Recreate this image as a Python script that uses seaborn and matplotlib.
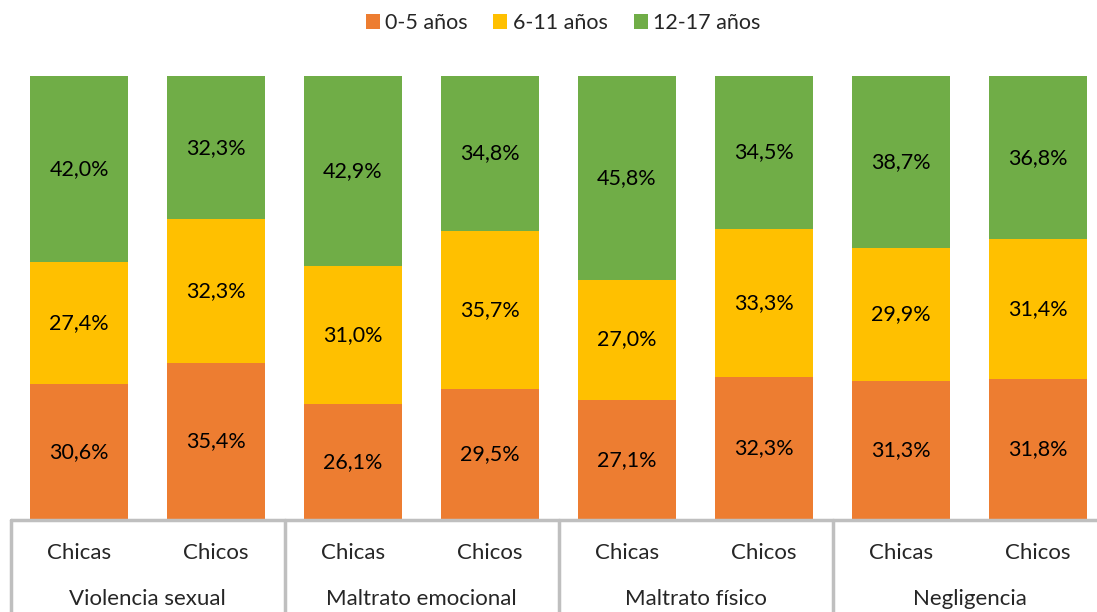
import numpy as np
import pandas as pd
import seaborn as sns
import matplotlib.pyplot as plt
from matplotlib.patches import Patch
import matplotlib.transforms as mtransforms

sexo = ["Chicas", "Chicos"] * 4
tipos = ["Violencia sexual", "Maltrato emocional", "Maltrato físico", "Negligencia"]
edades = ["0-5 años", "6-11 años", "12-17 años"]
colores = ["#ED7D31", "#FFC000", "#70AD47"]

edad_0_5 = [30.6, 35.4, 26.1, 29.5, 27.1, 32.3, 31.3, 31.8]
edad_6_11 = [27.4, 32.3, 31.0, 35.7, 27.0, 33.3, 29.9, 31.4]
edad_12_17 = [42.0, 32.3, 42.9, 34.8, 45.8, 34.5, 38.7, 36.8]

sns.set_theme(style="white")
plt.rcParams['font.family'] = ['Lato', 'DejaVu Sans']

vals = np.array([edad_0_5, edad_6_11, edad_12_17])
pct = vals / vals.sum(axis=0)  # 100% apilado
cum = np.cumsum(pct, axis=0)

df = pd.DataFrame({"pos": list(range(8))})

fig = plt.figure(figsize=(10.97, 6.12), dpi=100)
ax = fig.add_axes([10.5 / 1097, 92 / 612, 1096 / 1097, 444 / 612])

# dibujar de arriba abajo para que cada capa tape la anterior
for i in [2, 1, 0]:
    df["h"] = cum[i]
    sns.barplot(data=df, x="pos", y="h", color=colores[i], width=0.716,
                saturation=1, ax=ax, errorbar=None, linewidth=0)

for j in range(8):
    for i in range(3):
        y = cum[i][j] - pct[i][j] / 2
        ax.text(j, y, f"{vals[i][j]:.1f}%".replace(".", ","), ha="center",
                va="center", fontsize=15.5, color="#000000")

ax.set_xlim(-0.5, 7.5)
ax.set_ylim(0, 1)
ax.set_xticks([])
ax.set_yticks([])
ax.set_xlabel("")
ax.set_ylabel("")
for s in ax.spines.values():
    s.set_visible(False)

# eje de categorías tipo tabla
trans = mtransforms.blended_transform_factory(ax.transData, ax.transAxes)
gris = "#BFBFBF"
ax.plot([-0.5, 7.5], [0, 0], color=gris, lw=2.5, transform=trans, clip_on=False)
for xg in [-0.5, 1.5, 3.5, 5.5, 7.5]:
    ax.plot([xg, xg], [0, -0.25], color=gris, lw=2.5, transform=trans, clip_on=False)
for j in range(8):
    ax.text(j, -33 / 444, sexo[j], ha="center", va="center", fontsize=16,
            transform=trans)
for k, t in enumerate(tipos):
    ax.text(2 * k + 0.5, -79 / 444, t, ha="center", va="center", fontsize=16,
            transform=trans)

handles = [Patch(facecolor=c, edgecolor="none") for c in colores]
fig.legend(handles, edades, loc="center", bbox_to_anchor=(563 / 1097, 1 - 23 / 612),
           ncol=3, frameon=False, fontsize=15.5, handlelength=0.65, handleheight=0.65,
           handletextpad=0.25, columnspacing=1.2)

fig.savefig("out.png", dpi=100)
